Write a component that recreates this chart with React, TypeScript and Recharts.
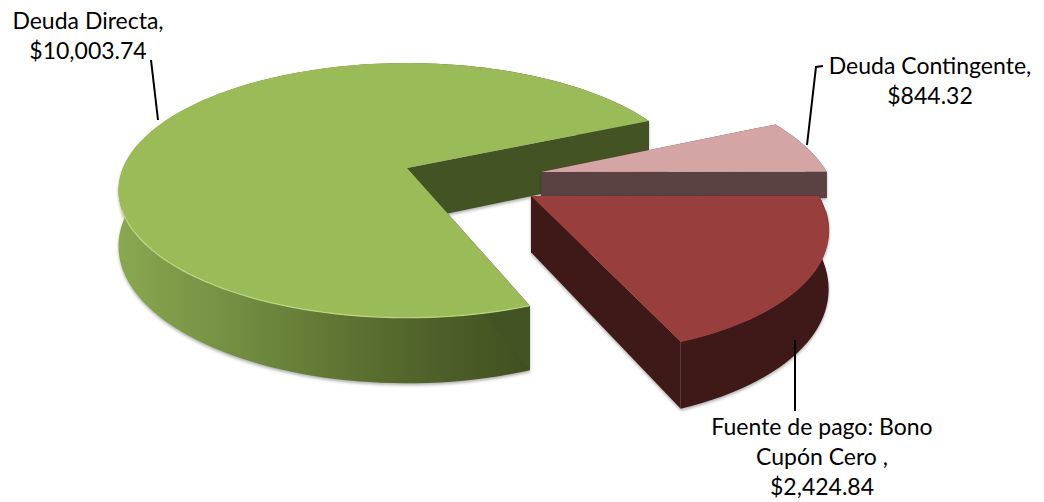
import { PieChart, Pie } from "recharts";

// valores tal cual vienen en las etiquetas
const names = ["Deuda Directa", "Deuda Contingente", "Fuente de pago: Bono Cupón Cero"];
const values = [10003.74, 844.32, 2424.84];
const labelLines = [
    ["Deuda Directa,", "$10,003.74"],
    ["Deuda Contingente,", "$844.32"],
    ["Fuente de pago: Bono", "Cupón Cero ,", "$2,424.84"],
];

const data = names.map((name, i) => ({ name, value: values[i] }));

const START_ANGLE = -68.8;
const TILT = 0.4345;
const PERSP = 0.176;

// desplazamiento de cada rebanada (unidades del disco)
const EXPLODE = [
    [0, 0],
    [0.47, 0.032],
    [0.42, 0.218],
];
const RADIUS = [1, 1, 0.975];
const DEPTH = [54, 26, 54]; // la rosa queda tapada por la roja
const TOP = ["#9bbb59", "#d5a5a5", "#983f3d"];
const WALL = ["url(#greenWall)", "#5a4242", "#3f1917"];
const FACE = ["#445324", "#5a4242", "#3f1917"];
const RIM = ["#bcd884", "#d5a5a5", "#983f3d"];
const LABEL_POS = [
    { x: 88, y: 29 },
    { x: 930, y: 74 },
    { x: 822, y: 435 },
];
const LEADERS = [
    "151,60 158,120",
    "823,66 816,67 807,145",
    "795,340 795,411",
];

// la perspectiva de Excel no reparte los ángulos igual, se corrige un poco
const warp = (a: number) => {
    const t = (((a - START_ANGLE) % 360) + 360) % 360;
    if (t <= 88.6) return START_ANGLE + t * 1.047;
    return START_ANGLE + 92.8 + (t - 88.6) * (267.2 / 271.4);
};

function Slice(props: any) {
    const { cx, cy, outerRadius, startAngle, endAngle, index } = props;
    const [ox, oy] = EXPLODE[index];
    const scale = RADIUS[index];

    const project = (u: number, v: number) => {
        const w = 1 / (1 - PERSP * (v + oy));
        return {
            x: cx + outerRadius * (u + ox) * w,
            y: cy + outerRadius * TILT * (v + oy) * w,
            d: DEPTH[index] * w,
        };
    };
    const onDisc = (deg: number) => {
        const r = (warp(deg) * Math.PI) / 180;
        return project(scale * Math.cos(r), -scale * Math.sin(r));
    };

    const steps = Math.max(12, Math.ceil(Math.abs(endAngle - startAngle) / 2));
    const arc = [];
    for (let i = 0; i <= steps; i++) {
        arc.push(onDisc(startAngle + ((endAngle - startAngle) * i) / steps));
    }
    const apex = project(0, 0);
    const first = arc[0];
    const last = arc[arc.length - 1];

    const pts = (list: { x: number; y: number }[]) => list.map((p) => `${p.x},${p.y}`).join(" ");
    const drop = (p: { x: number; y: number; d: number }) => ({ x: p.x, y: p.y + p.d, d: p.d });

    const wall = [...arc, ...arc.map(drop).reverse()];
    const faceA = [apex, first, drop(first), drop(apex)];
    const faceB = [apex, last, drop(last), drop(apex)];
    const top = [apex, ...arc];
    const front = arc.filter((p) => p.y > cy + 40);

    return (
        <g style={{ filter: "drop-shadow(0px 2px 1.5px rgba(0,0,0,0.3))" }}>
            <defs>
                <linearGradient id="greenWall" gradientUnits="userSpaceOnUse" x1="118" y1="0" x2="530" y2="0">
                    <stop offset="0" stopColor="#8aa750" />
                    <stop offset="0.3" stopColor="#728d41" />
                    <stop offset="0.65" stopColor="#566a2d" />
                    <stop offset="1" stopColor="#404f20" />
                </linearGradient>
            </defs>
            <polygon points={pts(wall)} fill={WALL[index]} />
            <polygon points={pts(faceA)} fill={FACE[index]} />
            <polygon points={pts(faceB)} fill={FACE[index]} />
            <polygon points={pts(top)} fill={TOP[index]} />
            <polyline points={pts(front)} fill="none" stroke={RIM[index]} strokeWidth={1.2} />
        </g>
    );
}

const renderLabel = ({ index }: any) => (
    <text
        x={LABEL_POS[index].x}
        y={LABEL_POS[index].y}
        textAnchor="middle"
        fontFamily="Lato"
        fontSize={23}
        fill="#000"
    >
        {labelLines[index].map((line, i) => (
            <tspan key={i} x={LABEL_POS[index].x} dy={i === 0 ? 0 : 30}>
                {line}
            </tspan>
        ))}
    </text>
);

const renderLeader = ({ index }: any) => (
    <polyline points={LEADERS[index]} fill="none" stroke="#000" strokeWidth={2} />
);

export default function App() {
    return (
        <div style={{ position: "absolute", left: 0, top: 0 }}>
            <PieChart width={1044} height={502} margin={{ top: 0, right: 0, bottom: 0, left: 0 }}>
                <Pie
                    data={data}
                    dataKey="value"
                    cx={407}
                    cy={168}
                    outerRadius={284}
                    startAngle={START_ANGLE}
                    endAngle={START_ANGLE - 360}
                    shape={Slice}
                    label={renderLabel}
                    labelLine={renderLeader}
                    isAnimationActive={false}
                />
            </PieChart>
        </div>
    );
}
